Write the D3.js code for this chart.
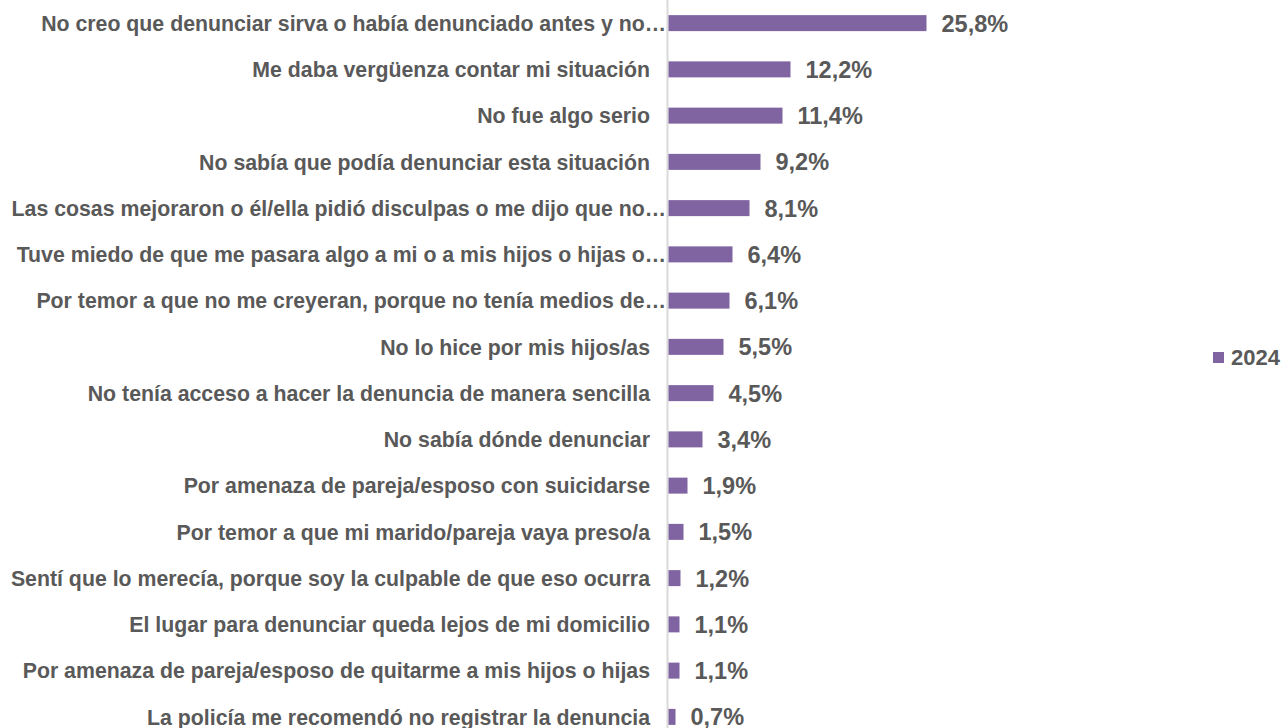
<!DOCTYPE html>
<html><head><meta charset="utf-8">
<script src="https://cdn.jsdelivr.net/npm/d3@7"></script>
<style>body{margin:0;background:#fff}svg{display:block}</style>
</head><body>
<svg id="c" width="1286" height="728"></svg>
<script>
const categories = [
  "No creo que denunciar sirva o había denunciado antes y no…",
  "Me daba vergüenza contar mi situación",
  "No fue algo serio",
  "No sabía que podía denunciar esta situación",
  "Las cosas mejoraron o él/ella pidió disculpas o me dijo que no…",
  "Tuve miedo de que me pasara algo a mi o a mis hijos o hijas o…",
  "Por temor a que no me creyeran, porque no tenía medios de…",
  "No lo hice por mis hijos/as",
  "No tenía acceso a hacer la denuncia de manera sencilla",
  "No sabía dónde denunciar",
  "Por amenaza de pareja/esposo con suicidarse",
  "Por temor a que mi marido/pareja vaya preso/a",
  "Sentí que lo merecía, porque soy la culpable de que eso ocurra",
  "El lugar para denunciar queda lejos de mi domicilio",
  "Por amenaza de pareja/esposo de quitarme a mis hijos o hijas",
  "La policía me recomendó no registrar la denuncia"
];
const values2024 = [25.8, 12.2, 11.4, 9.2, 8.1, 6.4, 6.1, 5.5, 4.5, 3.4, 1.9, 1.5, 1.2, 1.1, 1.1, 0.7];
const seriesName = "2024";

const svg = d3.select("#c");
const font = "'Liberation Sans', Arial, sans-serif";
const textColor = "#595959";
const barColor = "#8064a2";

const x = d3.scaleLinear().domain([0, 25.8]).range([668.5, 926.5]);
const y = d3.scaleBand().domain(categories).range([0, 740]).paddingInner(0.654).paddingOuter(0.327);

// axis line
svg.append("line").attr("x1", 667.5).attr("x2", 667.5).attr("y1", 0).attr("y2", 728)
  .attr("stroke", "#d9d9d9").attr("stroke-width", 2);

const g = svg.append("g");
g.selectAll("rect").data(values2024).join("rect")
  .attr("x", x(0))
  .attr("y", (d, i) => y(categories[i]))
  .attr("width", d => x(d) - x(0))
  .attr("height", y.bandwidth())
  .attr("fill", barColor);

g.selectAll("text.val").data(values2024).join("text")
  .attr("class", "val")
  .attr("x", d => x(d) + 15)
  .attr("y", (d, i) => y(categories[i]) + y.bandwidth() / 2)
  .attr("dy", "0.36em")
  .attr("font-family", font).attr("font-weight", "bold").attr("font-size", 23.5)
  .attr("fill", textColor)
  .text(d => d.toFixed(1).replace(".", ",") + "%");

g.selectAll("text.cat").data(categories).join("text")
  .attr("class", "cat")
  .attr("x", d => d.endsWith("…") ? 666 : 650)
  .attr("y", d => y(d) + y.bandwidth() / 2)
  .attr("dy", "0.36em")
  .attr("text-anchor", "end")
  .attr("font-family", font).attr("font-weight", "bold").attr("font-size", 21.3)
  .attr("fill", textColor)
  .text(d => d);

// legend
const lg = svg.append("g");
lg.append("rect").attr("x", 1213).attr("y", 352).attr("width", 11).attr("height", 11).attr("fill", barColor);
lg.append("text").attr("x", 1231).attr("y", 357.5).attr("dy", "0.36em")
  .attr("font-family", font).attr("font-weight", "bold").attr("font-size", 22)
  .attr("fill", textColor).text(seriesName);
</script>
</body></html>
